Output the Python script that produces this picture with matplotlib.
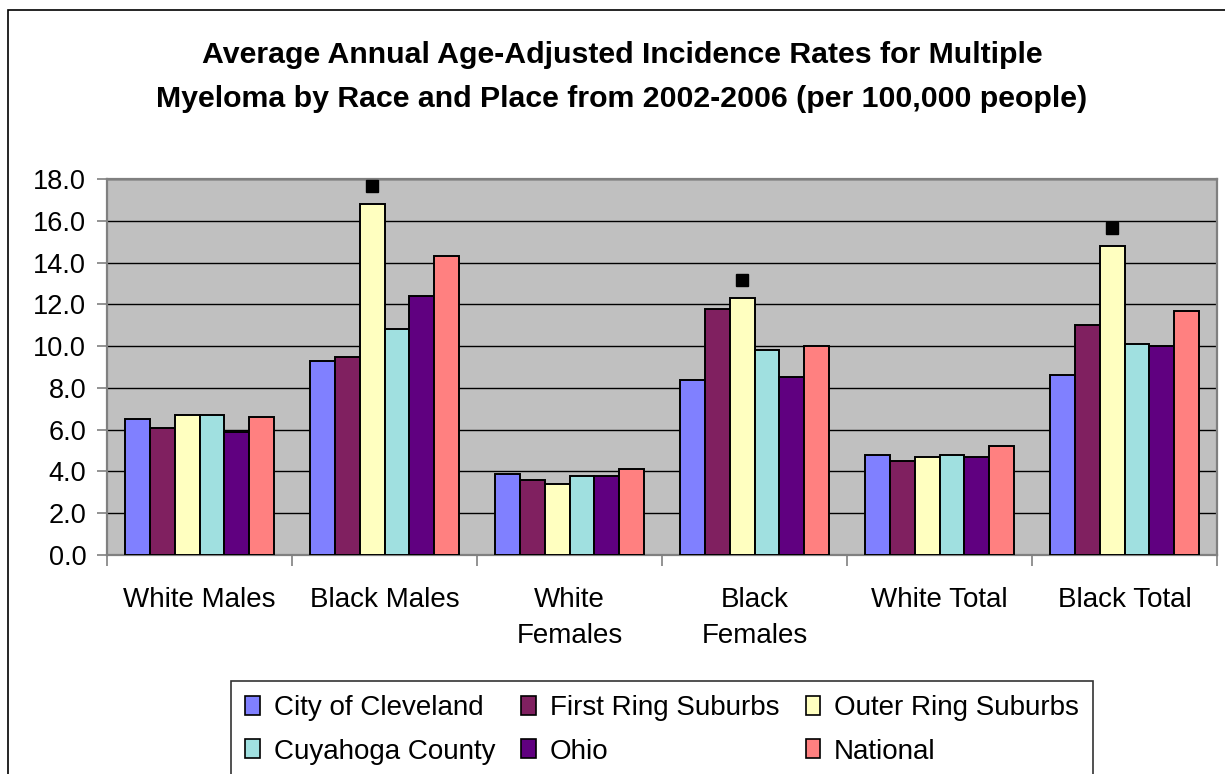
"""Multiple myeloma incidence by race and place, 2002-2006 (grouped bars)."""
import numpy as np
import matplotlib.pyplot as plt
from matplotlib.patches import Patch, Rectangle

plt.rcParams["font.family"] = ["Liberation Sans", "DejaVu Sans"]

groups = ["White Males", "Black Males", "White\nFemales", "Black\nFemales",
          "White Total", "Black Total"]
places = ["City of Cleveland", "First Ring Suburbs", "Outer Ring Suburbs",
          "Cuyahoga County", "Ohio", "National"]
colors = ["#8080FF", "#802060", "#FFFFC0", "#A0E0E0", "#600080", "#FF8080"]

rates = {
    "City of Cleveland":  [6.5, 9.3, 3.9, 8.4, 4.8, 8.6],
    "First Ring Suburbs": [6.1, 9.5, 3.6, 11.8, 4.5, 11.0],
    "Outer Ring Suburbs": [6.7, 16.8, 3.4, 12.3, 4.7, 14.8],
    "Cuyahoga County":    [6.7, 10.8, 3.8, 9.8, 4.8, 10.1],
    "Ohio":               [5.9, 12.4, 3.8, 8.5, 4.7, 10.0],
    "National":           [6.6, 14.3, 4.1, 10.0, 5.2, 11.7],
}
# groups where the outer ring rate is flagged with a square marker
flagged = [1, 3, 5]

fig = plt.figure(figsize=(12.25, 7.74), dpi=100)
ax = fig.add_axes([107 / 1225, 1 - 555 / 774, 1110 / 1225, 376 / 774])
ax.set_facecolor("#C0C0C0")

x = np.arange(len(groups))
width = 0.1342
for k, (name, col) in enumerate(zip(places, colors)):
    offs = (k - 2.5) * width
    ax.bar(x + offs, rates[name], width, color=col, edgecolor="black",
           linewidth=1.4, zorder=3, label=name)

outer = np.array(rates["Outer Ring Suburbs"])
ax.plot(x[flagged] - 0.5 * width, outer[flagged] + 0.87, "s", color="black",
        markersize=9, zorder=4, linestyle="none")

ax.set_xlim(-0.5, len(groups) - 0.5)
ax.set_ylim(0, 18)
ax.set_yticks(np.arange(0, 18.1, 2))
ax.set_yticklabels([f"{v:.1f}" for v in np.arange(0, 18.1, 2)], fontsize=19.5)
ax.yaxis.grid(True, color="black", linewidth=1.0, zorder=0)
ax.set_axisbelow(True)

ax.set_xticks(x)
ax.set_xticklabels(groups, fontsize=20, linespacing=1.48)
ax.set_xticks(np.arange(-0.5, len(groups)), minor=True)
ax.tick_params(axis="x", which="major", length=0, pad=23)
ax.tick_params(axis="x", which="minor", length=8, width=1.2, color="#808080")
ax.tick_params(axis="y", length=7, width=1.2, color="#808080", pad=8)
for sp in ax.spines.values():
    sp.set_color("#808080")
    sp.set_linewidth(1.6)

fig.text(622 / 1225, 1 - 77 / 774,
         "Average Annual Age-Adjusted Incidence Rates for Multiple\n"
         "Myeloma by Race and Place from 2002-2006 (per 100,000 people)",
         ha="center", va="center", fontsize=21.8, fontweight="bold",
         linespacing=1.7)

# legend filled row-wise like the original: reorder for column-major fill
handles = [Patch(facecolor=c, edgecolor="black", linewidth=1.2) for c in colors]
order = [0, 3, 1, 4, 2, 5]
leg = fig.legend([handles[i] for i in order], [places[i] for i in order],
                 ncol=3, loc="upper center",
                 bbox_to_anchor=(662 / 1225, 1 - 681 / 774),
                 borderaxespad=0,
                 fontsize=20, frameon=True, fancybox=False, edgecolor="black",
                 handlelength=0.52, handleheight=0.68, handletextpad=0.5,
                 columnspacing=0.95, labelspacing=0.64, borderpad=0.5)
leg.get_frame().set_linewidth(1.2)

# chart outer border
fig.patches.append(Rectangle((8 / 1225, -0.05), 1.1, 1 - 10 / 774 + 0.05,
                             transform=fig.transFigure, fill=False,
                             edgecolor="black", linewidth=1.2))

fig.savefig("out.png", dpi=100)
